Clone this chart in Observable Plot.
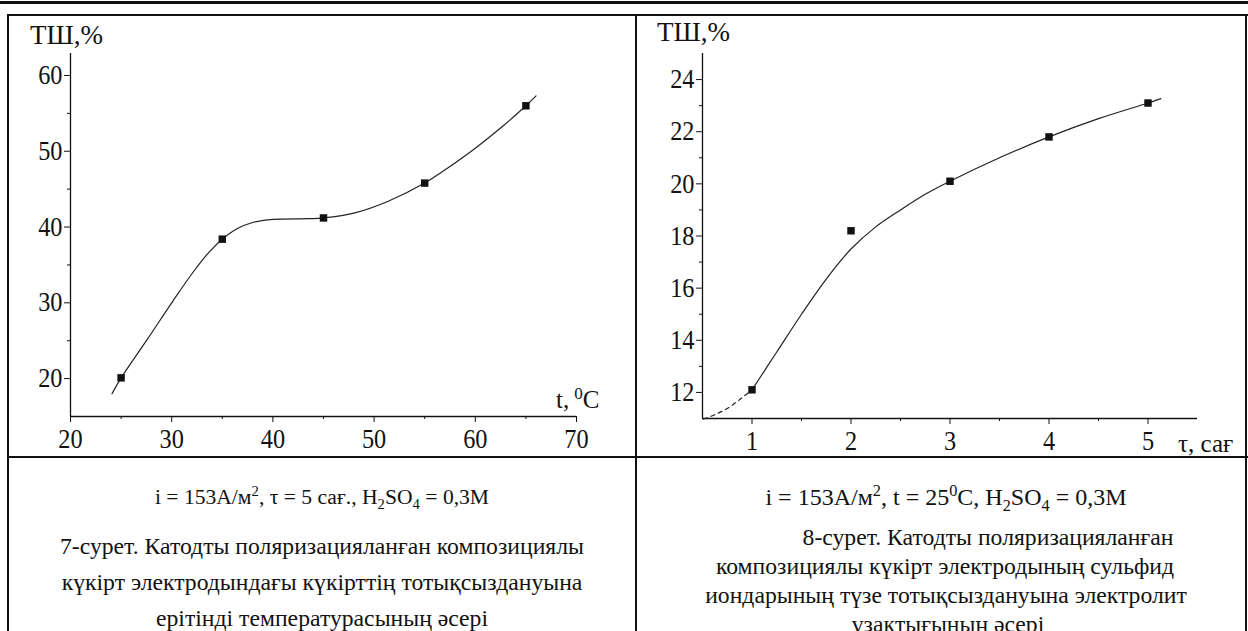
<!DOCTYPE html>
<html><head><meta charset="utf-8">
<script src="https://cdn.jsdelivr.net/npm/d3@7"></script>
<script src="https://cdn.jsdelivr.net/npm/@observablehq/plot@0.6"></script>
<style>
html,body{margin:0;padding:0;background:#fff;}
#page{position:relative;width:1248px;height:631px;overflow:hidden;background:#fff;font-family:"Liberation Serif","Times New Roman",serif;color:#111;}
.hl{position:absolute;background:#111;}
.chart{position:absolute;}
.lab{position:absolute;white-space:nowrap;line-height:1;}
.cap{position:absolute;width:640px;font-size:23.7px;line-height:28px;white-space:nowrap;text-align:center;}
sup,sub{font-size:0.68em;line-height:0;}
</style></head><body>
<div id="page">
  <div class="hl" style="left:0;top:1px;width:1248px;height:3px"></div>
  <div class="hl" style="left:7px;top:14px;width:1241px;height:2px"></div>
  <div class="hl" style="left:7px;top:14px;width:2px;height:617px"></div>
  <div class="hl" style="left:635px;top:14px;width:2px;height:617px"></div>
  <div class="hl" style="left:1245px;top:14px;width:2px;height:617px"></div>
  <div class="hl" style="left:7px;top:456px;width:1241px;height:2px"></div>

  <div id="c1" class="chart" style="left:8px;top:16px"></div>
  <div id="c2" class="chart" style="left:637px;top:16px"></div>

  <div class="lab" style="left:30px;top:22px;font-size:27px">ТШ,%</div>
  <div class="lab" style="left:657px;top:19px;font-size:27px">ТШ,%</div>
  <div class="lab" style="left:556px;top:387px;font-size:25px">t,&thinsp;<sup>0</sup>C</div>
  <div class="lab" style="left:1178px;top:431px;font-size:25px">τ, сағ</div>

  <div class="cap" style="left:2px;top:483px;font-size:21.6px">i = 153А/м<sup>2</sup>, τ = 5 сағ., H<sub>2</sub>SO<sub>4</sub> = 0,3M</div>
  <div class="cap" style="left:2px;top:532px">7-сурет. Катодты поляризацияланған композициялы</div>
  <div class="cap" style="left:2px;top:568px">күкірт электродындағы күкірттің тотықсыздануына</div>
  <div class="cap" style="left:2px;top:604px">ерітінді температурасының әсері</div>

  <div class="cap" style="left:626px;top:483px;font-size:24px">i = 153А/м<sup>2</sup>, t = 25<sup>0</sup>C, H<sub>2</sub>SO<sub>4</sub> = 0,3M</div>
  <div class="cap" style="left:668px;top:523px">8-сурет. Катодты поляризацияланған</div>
  <div class="cap" style="left:625px;top:552px">композициялы күкірт электродының сульфид</div>
  <div class="cap" style="left:626px;top:581px">иондарының түзе тотықсыздануына электролит</div>
  <div class="cap" style="left:628px;top:610px">ұзақтығының әсері</div>
</div>
<script>
// ---- Figure 7: effect of temperature ----
const tempC = [25, 35, 45, 55, 65];
const tshTemp = [20.1, 38.4, 41.2, 45.8, 56.0];
const fitTempX = [24.1, 25, 27.6, 30.1, 32.2, 33.7, 35, 36.5, 38, 40, 43.5, 45, 48.2, 51.4, 55, 57.5, 60, 62.7, 65, 66];
const fitTempY = [18.0, 20.1, 25.2, 30.2, 34.2, 36.7, 38.4, 39.8, 40.6, 41.0, 41.1, 41.2, 41.9, 43.4, 45.8, 48.0, 50.4, 53.3, 56.0, 57.3];
const xTicksTemp = [20, 30, 40, 50, 60, 70];
const xMinorTemp = [25, 35, 45, 55, 65];
const yTicksTemp = [20, 30, 40, 50, 60];
const yMinorTemp = [25, 35, 45, 55];

// ---- Figure 8: effect of electrolysis duration ----
const hours = [1, 2, 3, 4, 5];
const tshTime = [12.1, 18.2, 20.1, 21.8, 23.1];
const fitDashX = [0.51, 0.64, 0.77, 0.89, 1.0];
const fitDashY = [10.98, 11.17, 11.43, 11.77, 12.1];
const fitTimeX = [1.0, 1.25, 1.5, 1.75, 2.0, 2.25, 2.5, 2.75, 3.0, 3.5, 4.0, 4.5, 5.0, 5.13];
const fitTimeY = [12.1, 13.55, 15.0, 16.35, 17.5, 18.35, 19.0, 19.6, 20.1, 21.0, 21.8, 22.5, 23.1, 23.27];
const xTicksTime = [1, 2, 3, 4, 5];
const xMinorTime = [1.5, 2.5, 3.5, 4.5];
const yTicksTime = [12, 14, 16, 18, 20, 22, 24];
const yMinorTime = [13, 15, 17, 19, 21, 23];

const zip = (xs, ys) => xs.map((x, i) => ({x, y: ys[i]}));
const INK = "#111";
const FONT = "Liberation Serif";

function squeeze(svg) {
  svg.querySelectorAll('g[aria-label$="tick label"] text').forEach(t => {
    const tr = t.getAttribute("transform") || "";
    t.setAttribute("transform", tr + " scale(0.9,1)");
  });
  return svg;
}

function chart({width, height, margins, xDomain, yDomain, xTicks, xMinor, yTicks, yMinor, pts, curves}) {
  const fmt = d => String(d);
  const marks = [
    Plot.ruleX([xDomain[0]], {y1: yDomain[0], y2: yDomain[1], stroke: INK, strokeWidth: 1.3}),
    Plot.ruleY([yDomain[0]], {x1: xDomain[0], x2: xDomain[1], stroke: INK, strokeWidth: 1.3}),
    Plot.axisX({ticks: xTicks, tickFormat: fmt, tickSize: 6, tickPadding: 6, label: null, fontSize: 27, fontFamily: FONT, stroke: INK, fill: INK}),
    Plot.axisX({ticks: xMinor, tickSize: 3, tickFormat: () => "", label: null, stroke: INK}),
    Plot.axisY({ticks: yTicks, tickFormat: fmt, tickSize: 6, tickPadding: 2, label: null, fontSize: 27, fontFamily: FONT, stroke: INK, fill: INK}),
    Plot.axisY({ticks: yMinor, tickSize: 3, tickFormat: () => "", label: null, stroke: INK}),
    ...curves.map(c => Plot.line(c.data, {x: "x", y: "y", curve: "catmull-rom", stroke: "#222", strokeWidth: 1.2, strokeDasharray: c.dash})),
    Plot.dot(pts, {x: "x", y: "y", symbol: "square", r: 4.2, fill: INK, stroke: "none"})
  ];
  return squeeze(Plot.plot({
    width, height,
    marginLeft: margins[0], marginRight: margins[1], marginTop: margins[2], marginBottom: margins[3],
    x: {domain: xDomain, label: null},
    y: {domain: yDomain, label: null},
    style: {fontFamily: FONT, fontSize: "27px", color: INK, background: "transparent", overflow: "visible"},
    marks
  }));
}

document.getElementById("c1").append(chart({
  width: 627, height: 440, margins: [62, 59, 37, 40],
  xDomain: [20, 70], yDomain: [15, 62.9],
  xTicks: xTicksTemp, xMinor: xMinorTemp, yTicks: yTicksTemp, yMinor: yMinorTemp,
  pts: zip(tempC, tshTemp),
  curves: [{data: zip(fitTempX, fitTempY), dash: null}]
}));

document.getElementById("c2").append(chart({
  width: 608, height: 440, margins: [65, 48, 37, 38],
  xDomain: [0.5, 5.5], yDomain: [11, 25],
  xTicks: xTicksTime, xMinor: xMinorTime, yTicks: yTicksTime, yMinor: yMinorTime,
  pts: zip(hours, tshTime),
  curves: [{data: zip(fitDashX, fitDashY), dash: "4,4"}, {data: zip(fitTimeX, fitTimeY), dash: null}]
}));
</script>
</body></html>
